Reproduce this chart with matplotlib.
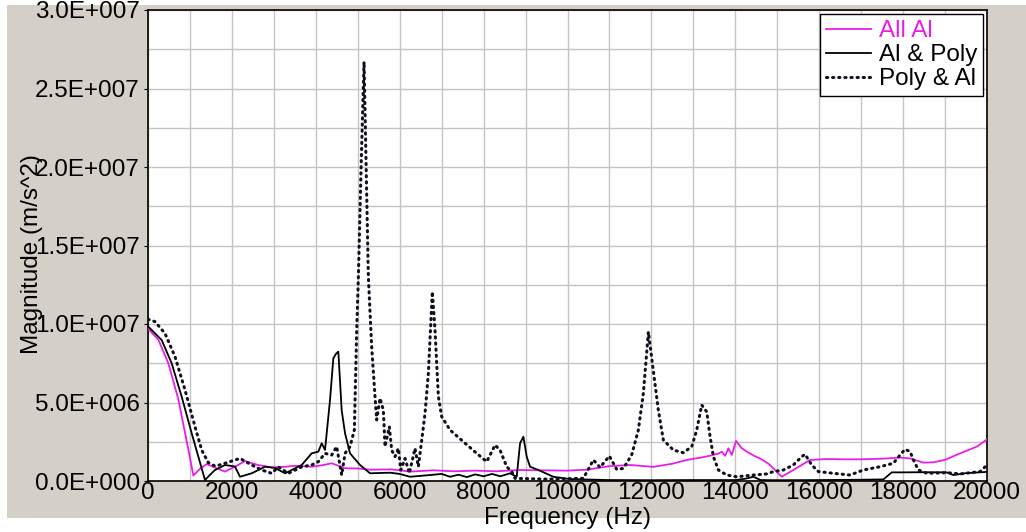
import matplotlib
matplotlib.use("Agg")
import matplotlib.pyplot as plt
from matplotlib.patches import Rectangle
from matplotlib.ticker import MultipleLocator

# ---------------- data (magnitude in units of 1e6 m/s^2) ----------------
all_al_f = [0, 246, 485, 724, 962, 1081, 1250, 1400, 1600, 1836,
            2100, 2312, 2622, 2948, 3250, 3505, 3902, 4150, 4379, 4697,
            5000, 5300, 5800, 6250, 6800, 7300, 7800, 8300, 8869, 9400,
            9981, 10458, 11014, 11500, 12047, 12500, 12843, 13200, 13477, 13600,
            13676, 13756, 13835, 13915, 14018, 14150, 14273, 14450, 14590, 14789,
            14908, 15107, 15384, 15600, 15782, 16180, 16600, 16975, 17500, 17928,
            18167, 18485, 18723, 19000, 19359, 19757, 20000]
all_al_v = [9.7, 9.0, 7.5, 5.2, 2.0, 0.35, 0.8, 1.08, 0.85, 0.6,
            0.95, 1.27, 1.02, 0.87, 0.9, 0.97, 0.91, 1.0, 1.13, 0.81,
            0.8, 0.72, 0.74, 0.6, 0.68, 0.62, 0.66, 0.62, 0.7, 0.68,
            0.66, 0.72, 0.95, 1.02, 0.9, 1.1, 1.34, 1.5, 1.66, 1.75,
            1.87, 1.6, 2.08, 1.66, 2.55, 2.1, 1.87, 1.6, 1.44, 1.1,
            0.81, 0.27, 0.7, 1.05, 1.34, 1.4, 1.38, 1.38, 1.42, 1.49,
            1.44, 1.17, 1.19, 1.35, 1.76, 2.19, 2.65]

al_poly_f = [0, 326, 564, 803, 1041, 1200, 1359, 1480, 1597, 1836,
             2074, 2193, 2472, 2789, 3028, 3266, 3425, 3664, 3902, 4061,
             4140, 4220, 4339, 4418, 4480, 4537, 4617, 4697, 4816, 5054,
             5292, 5769, 6000, 6246, 6723, 7000, 7200, 7400, 7600, 7800,
             8000, 8200, 8400, 8630, 8789, 8869, 8948, 9028, 9107, 9305,
             9663, 10060, 11000, 12000, 13000, 14000, 14250, 14432, 14600, 15000,
             16000, 17000, 17530, 17729, 18000, 18500, 19040, 19200, 19500, 20000]
al_poly_v = [9.85, 8.98, 7.5, 5.37, 3.04, 1.55, 0.06, 0.4, 0.7, 1.02,
             0.92, 0.27, 0.49, 0.91, 0.83, 0.49, 0.7, 1.02, 1.76, 1.87,
             2.4, 1.98, 5.16, 7.81, 8.1, 8.24, 4.5, 3.04, 1.76, 1.02,
             0.49, 0.53, 0.45, 0.27, 0.38, 0.45, 0.27, 0.4, 0.25, 0.42,
             0.3, 0.45, 0.3, 0.49, 0.27, 2.4, 2.82, 1.55, 0.91, 0.7,
             0.27, 0.12, 0.06, 0.05, 0.06, 0.06, 0.15, 0.27, 0.06, 0.05,
             0.06, 0.08, 0.1, 0.55, 0.55, 0.56, 0.55, 0.38, 0.5, 0.58]

poly_al_f = [0, 167, 405, 644, 882, 1121, 1280, 1438, 1597, 1757,
             1995, 2193, 2472, 2710, 2948, 3107, 3346, 3664, 3902, 4061,
             4220, 4378, 4497, 4617, 4697, 4816, 4919, 4975, 5015, 5080,
             5150, 5200, 5253, 5332, 5412, 5451, 5531, 5610, 5650, 5753,
             5809, 5888, 5968, 6025, 6127, 6230, 6365, 6445, 6525, 6604,
             6683, 6778, 6842, 6922, 7001, 7200, 7518, 7836, 8074, 8273,
             8392, 8551, 8670, 8749, 9000, 9500, 10000, 10378, 10617, 10776,
             10998, 11173, 11332, 11530, 11689, 11808, 11928, 12047, 12166, 12285,
             12523, 12762, 12961, 13081, 13200, 13319, 13399, 13478, 13597, 13796,
             14034, 14432, 14750, 14908, 15146, 15384, 15583, 15663, 15822, 15980,
             16339, 16736, 17053, 17451, 17769, 17928, 18047, 18167, 18246, 18365,
             18564, 19041, 19359, 19836, 20000]
poly_al_v = [10.3, 10.15, 9.4, 7.92, 5.8, 3.46, 1.97, 1.17, 0.95, 1.06,
             1.27, 1.44, 1.02, 0.7, 0.49, 0.9, 0.49, 0.9, 1.02, 1.23,
             1.76, 1.65, 2.19, 0.38, 1.76, 2.19, 3.25, 9.6, 13.0, 20.0,
             26.7, 20.0, 13.0, 8.55, 5.37, 3.89, 5.27, 4.52, 2.19, 3.46,
             1.97, 1.55, 2.08, 0.7, 1.44, 0.49, 2.08, 0.91, 2.6, 4.31,
             6.86, 12.06, 9.6, 5.37, 4.1, 3.25, 2.5, 1.76, 1.23, 2.29,
             1.97, 0.91, 0.6, 0.17, 0.15, 0.12, 0.15, 0.17, 1.34, 0.87,
             1.59, 0.74, 0.8, 1.66, 3.25, 5.58, 9.5, 7.0, 4.5, 2.61,
             1.97, 1.8, 2.19, 3.25, 4.84, 4.41, 2.82, 1.55, 0.7, 0.38,
             0.27, 0.38, 0.45, 0.6, 0.7, 1.02, 1.55, 1.7, 1.02, 0.6,
             0.49, 0.38, 0.7, 0.91, 1.13, 1.66, 2.02, 1.87, 1.34, 0.7,
             0.49, 0.53, 0.45, 0.6, 1.02]

series_labels = ["All Al", "Al & Poly", "Poly & Al"]
x_ticks = [0, 2000, 4000, 6000, 8000, 10000, 12000, 14000, 16000, 18000, 20000]
x_ticklabels = ["0", "2000", "4000", "6000", "8000", "10000", "12000",
                "14000", "16000", "18000", "20000"]
y_ticks = [0, 5, 10, 15, 20, 25, 30]
y_ticklabels = ["0.0E+000", "5.0E+006", "1.0E+007", "1.5E+007",
                "2.0E+007", "2.5E+007", "3.0E+007"]

# ---------------- styling ----------------
plt.rcParams["font.family"] = ["Liberation Sans", "DejaVu Sans"]
FS = 17.5
W, H = 1026, 532
fig = plt.figure(figsize=(W / 100, H / 100), dpi=100, facecolor="white")

# grey panel background
fig.patches.append(Rectangle((7 / W, 1 - 518 / H), (W - 7) / W, (518 - 5) / H,
                             transform=fig.transFigure, facecolor="#d4d0c8",
                             edgecolor="none", zorder=-10))

ax = fig.add_axes([148 / W, 1 - 481 / H, 839 / W, 471 / H])
ax.set_zorder(1)
ax.set_facecolor("white")

magenta = "#e81ee8"
ax.plot(all_al_f, all_al_v, color=magenta, lw=1.3, label=series_labels[0], zorder=3)
ax.plot(al_poly_f, al_poly_v, color="black", lw=1.3, label=series_labels[1], zorder=4)
ax.plot(poly_al_f, poly_al_v, color="#101020", lw=2.2,
        linestyle=(0, (0.4, 1.6)), dash_capstyle="round",
        label=series_labels[2], zorder=5)

ax.set_xlim(0, 20000)
ax.set_ylim(0, 30)
ax.set_xticks(x_ticks, x_ticklabels)
ax.set_yticks(y_ticks, y_ticklabels)
ax.xaxis.set_minor_locator(MultipleLocator(1000))
ax.yaxis.set_minor_locator(MultipleLocator(2.5))
ax.grid(True, which="both", color="#c4c4c4", lw=1.0, zorder=0)
ax.set_axisbelow(True)

ax.tick_params(axis="x", which="major", length=0, pad=1, labelsize=FS)
ax.tick_params(axis="y", which="major", length=3, pad=3, labelsize=FS)
ax.tick_params(which="minor", length=0)
for s in ax.spines.values():
    s.set_color("black")
    s.set_linewidth(1.2)

fig.text(32 / W, 1 - 254 / H, "Magnitude (m/s^2)", rotation=90,
         ha="center", va="center", fontsize=FS, zorder=5)
fig.text(567 / W, 1 - 518 / H, "Frequency (Hz)", ha="center", va="center",
         fontsize=FS, zorder=5)

leg = ax.legend(loc="upper right", bbox_to_anchor=(983 / W, 1 - 14 / H),
                bbox_transform=fig.transFigure, borderaxespad=0,
                fontsize=FS, frameon=True, fancybox=False, framealpha=1,
                edgecolor="black", handlelength=1.85, handletextpad=0.3,
                labelspacing=0.08, borderpad=0.25)
leg.get_frame().set_linewidth(1.0)
leg.get_texts()[0].set_color(magenta)

fig.savefig("out.png", dpi=100, facecolor=fig.get_facecolor())
